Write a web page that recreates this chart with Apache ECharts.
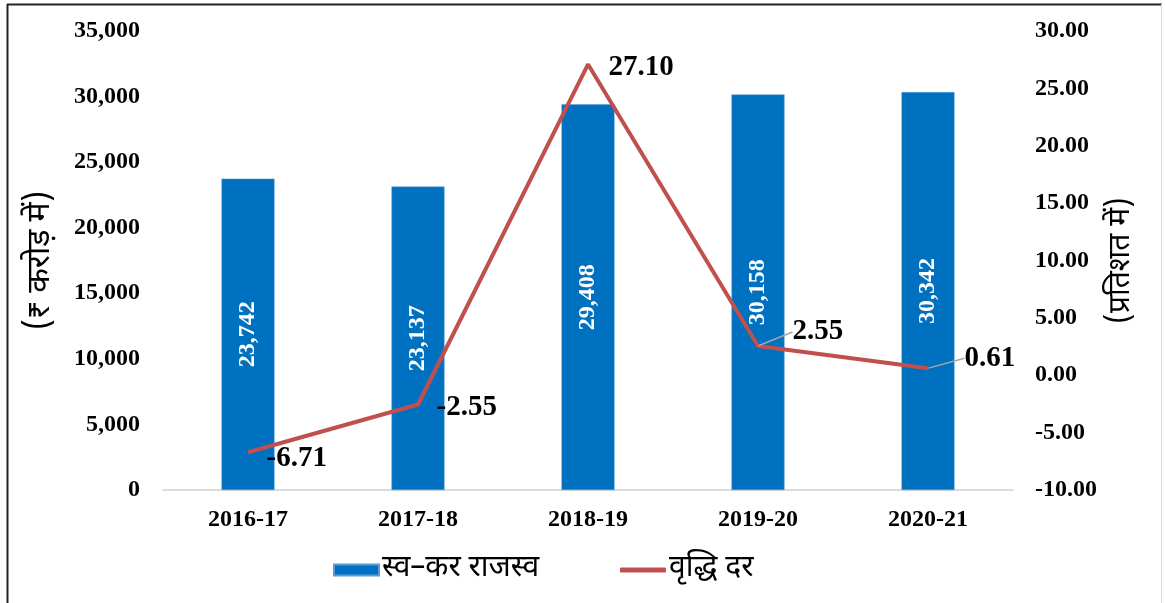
<!DOCTYPE html>
<html>
<head>
<meta charset="utf-8">
<style>
  html, body { margin: 0; padding: 0; background: #fff; }
  #chart { width: 1165px; height: 603px; }
</style>
<script src="https://cdn.jsdelivr.net/npm/echarts@6/dist/echarts.min.js"></script>
</head>
<body>
<div id="chart"></div>
<script>
// Own-tax revenue (₹ crore) and its growth rate (%)
const years = ['2016-17', '2017-18', '2018-19', '2019-20', '2020-21'];
const revenue = [23742, 23137, 29408, 30158, 30342];
const growth = [-6.71, -2.55, 27.10, 2.55, 0.61];
const revenueName = 'स्व–कर राजस्व';
const growthName = 'वृद्धि दर';
const leftAxisName = '(₹ करोड़ में)';
const rightAxisName = '(प्रतिशत में)';

// Per-point label shifts for the growth line (the last two use a leader line)
const growthLabelShift = [
  { dx: 0, dy: 6, line: false },
  { dx: 0, dy: 3, line: false },
  { dx: 2, dy: 3, line: false },
  { dx: 16, dy: -14, line: true },
  { dx: 18, dy: -10, line: true }
];

const serif = '"Liberation Serif", "Times New Roman", serif';
const deva = '"Noto Sans Devanagari", "Lohit Devanagari", "Mangal", "Noto Sans", sans-serif';

const chart = echarts.init(document.getElementById('chart'));
chart.setOption({
  animation: false,
  backgroundColor: '#fff',
  graphic: [
    { type: 'line', shape: { x1: 7.5, y1: 4, x2: 7.5, y2: 603 }, style: { stroke: '#222', lineWidth: 2 } },
    { type: 'line', shape: { x1: 7, y1: 4.5, x2: 1162, y2: 4.5 }, style: { stroke: '#222', lineWidth: 2 } },
    { type: 'line', shape: { x1: 1161.5, y1: 4, x2: 1161.5, y2: 603 }, style: { stroke: '#d9d9d9', lineWidth: 1 } }
  ],
  grid: { left: 163, right: 152, top: 31, bottom: 113 },
  legend: [
    {
      left: 328,
      top: 550,
      itemWidth: 45,
      itemHeight: 11,
      itemGap: 4,
      textStyle: { fontFamily: deva, fontSize: 30, color: '#000', padding: [0, 0, 0, -2] },
      data: [{ name: revenueName, icon: 'rect' }]
    },
    {
      left: 615,
      top: 550,
      itemWidth: 46,
      itemHeight: 5,
      textStyle: { fontFamily: deva, fontSize: 30, color: '#000', padding: [0, 0, 0, -2] },
      data: [{ name: growthName, icon: 'roundRect' }]
    }
  ],
  xAxis: {
    type: 'category',
    data: years,
    axisLine: { lineStyle: { color: '#d0d0d0', width: 1.5 } },
    axisTick: { show: false },
    axisLabel: { color: '#000', fontFamily: serif, fontWeight: 'bold', fontSize: 24, margin: 18 }
  },
  yAxis: [
    {
      type: 'value',
      min: 0, max: 35000, interval: 5000,
      name: leftAxisName,
      nameLocation: 'middle',
      nameGap: 104,
      nameTextStyle: { fontFamily: deva, fontSize: 32, color: '#000' },
      axisLine: { show: false },
      axisTick: { show: false },
      splitLine: { show: false },
      axisLabel: {
        color: '#000', fontFamily: serif, fontWeight: 'bold', fontSize: 24, margin: 23,
        formatter: v => v.toLocaleString('en-US')
      }
    },
    {
      type: 'value',
      min: -10, max: 30, interval: 5,
      name: rightAxisName,
      nameLocation: 'middle',
      nameGap: 90,
      nameRotate: 90,
      nameTextStyle: { fontFamily: deva, fontSize: 30, color: '#000' },
      axisLine: { show: false },
      axisTick: { show: false },
      splitLine: { show: false },
      axisLabel: {
        color: '#000', fontFamily: serif, fontWeight: 'bold', fontSize: 24, margin: 22,
        formatter: v => v.toFixed(2)
      }
    }
  ],
  series: [
    {
      name: revenueName,
      type: 'bar',
      data: revenue,
      barWidth: 53,
      itemStyle: { color: '#0070C0', borderColor: '#5b9bd5', borderWidth: 0.5 },
      label: {
        show: true,
        position: 'inside',
        rotate: 90,
        color: '#fff',
        fontFamily: serif,
        fontWeight: 'bold',
        fontSize: 24,
        formatter: p => p.value.toLocaleString('en-US')
      }
    },
    {
      name: growthName,
      type: 'line',
      yAxisIndex: 1,
      data: growth.map((v, i) => ({
        value: v,
        labelLine: { show: growthLabelShift[i].line }
      })),
      symbol: 'circle',
      symbolSize: 1,
      showSymbol: true,
      lineStyle: { color: '#C0504D', width: 4 },
      itemStyle: { color: '#C0504D' },
      label: {
        show: true,
        position: 'right',
        distance: 18,
        color: '#000',
        fontFamily: serif,
        fontWeight: 'bold',
        fontSize: 29,
        formatter: p => p.value.toFixed(2)
      },
      labelLine: { show: false, lineStyle: { color: '#a6a6a6', width: 1.5 } },
      labelLayout: p => ({ dx: growthLabelShift[p.dataIndex].dx, dy: growthLabelShift[p.dataIndex].dy })
    }
  ]
});
</script>
</body>
</html>
